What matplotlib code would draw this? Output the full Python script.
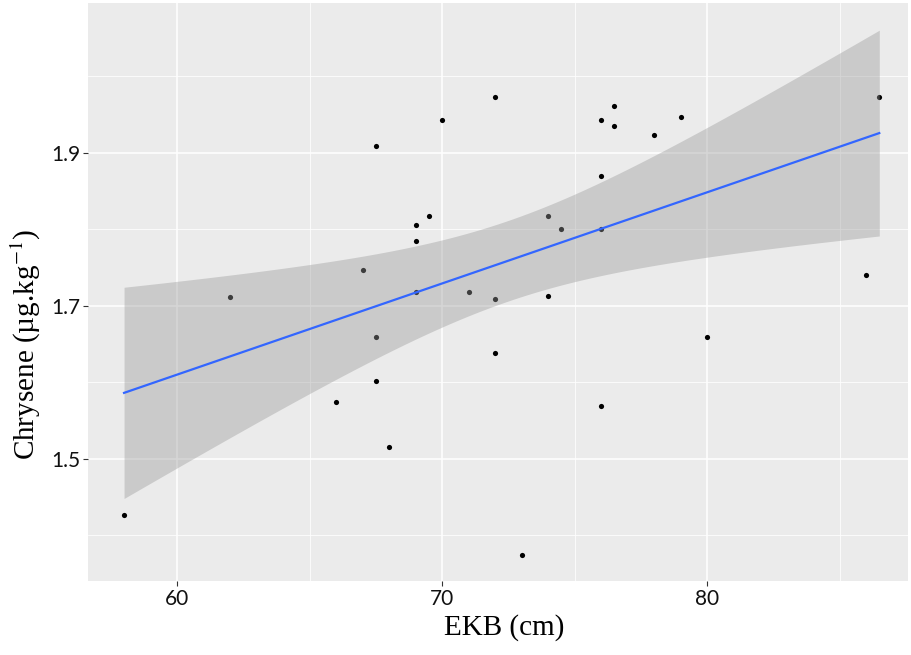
import numpy as np
import matplotlib.pyplot as plt

# EKB (cm) vs chrysene
ekb = [58, 62, 66, 67, 67.5, 67.5, 67.5, 68, 69, 69, 69, 69.5, 70, 71,
       72, 72, 72, 73, 74, 74, 74.5, 76, 76, 76, 76, 76.5, 76.5, 78, 79,
       80, 86, 86.5]
chrysene = [1.426, 1.7115, 1.5735, 1.746, 1.909, 1.659, 1.601, 1.515,
            1.805, 1.784, 1.718, 1.817, 1.943, 1.718, 1.973, 1.7085, 1.638,
            1.374, 1.817, 1.713, 1.800, 1.943, 1.870, 1.800, 1.569, 1.961,
            1.935, 1.923, 1.947, 1.659, 1.740, 1.973]

x = np.array(ekb)
y = np.array(chrysene)

# linear fit + 95% confidence band (like geom_smooth(method="lm"))
n = len(x)
slope, intercept = np.polyfit(x, y, 1)
resid = y - (intercept + slope * x)
s = np.sqrt(np.sum(resid ** 2) / (n - 2))
t_crit = 2.042  # t(0.975, df=30)
xs = np.linspace(x.min(), x.max(), 100)
ys = intercept + slope * xs
se = s * np.sqrt(1 / n + (xs - x.mean()) ** 2 / np.sum((x - x.mean()) ** 2))

plt.rcParams['mathtext.fontset'] = 'stix'

fig = plt.figure(figsize=(9.12, 6.55), dpi=100)
ax = fig.add_axes([0.0965, 0.113, 0.899, 0.882])
ax.set_facecolor('#EBEBEB')

ax.scatter(x, y, s=14, color='black', zorder=2, linewidths=0)
ax.fill_between(xs, ys - t_crit * se, ys + t_crit * se, color='#999999',
                alpha=0.4, linewidth=0, zorder=3)
ax.plot(xs, ys, color='#3366FF', linewidth=1.6, zorder=4)

ax.set_xticks([60, 70, 80])
ax.set_xticks([65, 75, 85], minor=True)
ax.set_yticks([1.5, 1.7, 1.9])
ax.set_yticks([1.4, 1.6, 1.8, 2.0], minor=True)
ax.set_yticklabels(['1.5', '1.7', '1.9'])
ax.set_xlim(56.64, 87.58)
ax.set_ylim(1.34, 2.0954)

ax.grid(which='major', color='white', linewidth=1.1, zorder=0)
ax.grid(which='minor', color='white', linewidth=0.55, zorder=0)
ax.set_axisbelow(True)
for sp in ax.spines.values():
    sp.set_visible(False)

ax.tick_params(which='major', length=3.5, color='#333333', labelsize=15,
               labelcolor='#111111', pad=2)
ax.tick_params(which='minor', length=0)
for lab in ax.get_xticklabels() + ax.get_yticklabels():
    lab.set_family('Lato')

ax.set_xlabel('EKB (cm)', family='Liberation Serif', fontsize=21, labelpad=4,
              x=0.508)
ax.set_ylabel('Chrysene (µg.kg$^{-1}$)', family='Liberation Serif',
              fontsize=21, labelpad=6, y=0.41)

fig.savefig('out.png', dpi=100)
